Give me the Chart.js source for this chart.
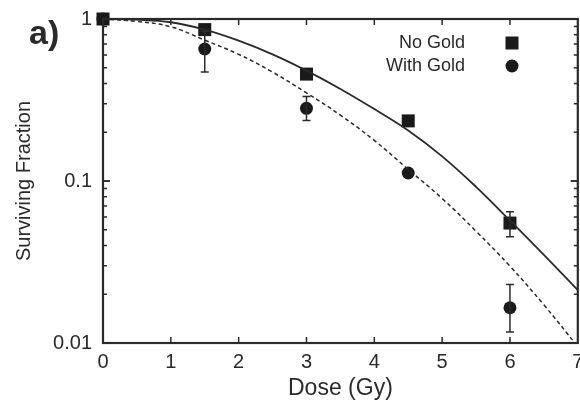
<!DOCTYPE html>
<html>
<head>
<meta charset="utf-8">
<script src="https://cdn.jsdelivr.net/npm/chart.js@4.4.1/dist/chart.umd.min.js"></script>
<style>
  html, body { margin:0; padding:0; background:#fff; overflow:hidden; }
  #wrap { width:587px; height:402px; position:relative; }
</style>
</head>
<body>
<div id="wrap"><canvas id="c"></canvas></div>
<script>
// measured points
const doses      = [0, 1.5, 3, 4.5, 6];
const noGold     = [1, 0.86, 0.457, 0.235, 0.055];
const withGold   = [1, 0.653, 0.281, 0.112, 0.0165];
// error bars (null = none visible)
const noGoldLow  = [null, null, null, null, 0.0453];
const noGoldHigh = [null, null, null, null, 0.0647];
const withGoldLow  = [null, 0.47, 0.236, null, 0.0117];
const withGoldHigh = [null, 0.84, 0.332, null, 0.023];

// fitted curves
const fitDoses   = [0, 0.5, 1, 1.5, 2, 2.5, 3, 3.5, 4, 4.5, 5, 5.5, 6, 6.5, 7];
const fitNoGold  = [1, 0.99, 0.955, 0.86, 0.735, 0.605, 0.48, 0.37, 0.278, 0.205, 0.142, 0.092, 0.057, 0.035, 0.0212];
const fitWithGold= [1, 0.965, 0.895, 0.74, 0.605, 0.47, 0.35, 0.255, 0.178, 0.118, 0.078, 0.049, 0.0298, 0.0172, 0.0095];

const yTickVals  = [0.01, 0.1, 1];
const xTickVals  = [0, 1, 2, 3, 4, 5, 6, 7];
const legendNames = ['No Gold', 'With Gold'];

const INK = '#2a2a2a';
const FONT = '"Liberation Sans", Arial, sans-serif';

function pts(xs, ys){ return xs.map((x,i) => ({x, y: ys[i]})); }

// frame + inward ticks
const framePlugin = {
  id:'frame',
  afterDatasetsDraw(chart){
    const {ctx, chartArea:a, scales:{x, y}} = chart;
    ctx.save();
    ctx.strokeStyle = INK;
    ctx.lineWidth = 1.5;
    // x ticks top & bottom
    xTickVals.forEach(v => {
      if (v === 0 || v === 7) return;
      const px = x.getPixelForValue(v);
      ctx.beginPath();
      ctx.moveTo(px, a.bottom); ctx.lineTo(px, a.bottom - 6);
      ctx.moveTo(px, a.top); ctx.lineTo(px, a.top + 6);
      ctx.stroke();
    });
    // y ticks, major + minor, left & right
    for (let dec = 0.01; dec < 1; dec *= 10) {
      for (let m = 1; m <= 10; m++) {
        const v = dec * m;
        const py = y.getPixelForValue(v);
        const len = (m === 1 || m === 10) ? 7 : 4;
        ctx.beginPath();
        ctx.moveTo(a.left, py); ctx.lineTo(a.left + len, py);
        ctx.moveTo(a.right, py); ctx.lineTo(a.right - len, py);
        ctx.stroke();
      }
    }
    ctx.lineWidth = 2.2;
    ctx.strokeRect(a.left, a.top, a.right - a.left, a.bottom - a.top);
    ctx.restore();
  }
};

// error bars
const errPlugin = {
  id:'errbars',
  afterDatasetsDraw(chart){
    const {ctx, scales:{x, y}} = chart;
    ctx.save();
    ctx.strokeStyle = INK;
    ctx.lineWidth = 1.5;
    const draw = (lo, hi) => doses.forEach((d,i) => {
      if (lo[i] == null) return;
      const px = x.getPixelForValue(d);
      const p1 = y.getPixelForValue(lo[i]);
      const p2 = y.getPixelForValue(hi[i]);
      ctx.beginPath();
      ctx.moveTo(px, p1); ctx.lineTo(px, p2);
      ctx.moveTo(px - 4, p1); ctx.lineTo(px + 4, p1);
      ctx.moveTo(px - 4, p2); ctx.lineTo(px + 4, p2);
      ctx.stroke();
    });
    draw(noGoldLow, noGoldHigh);
    draw(withGoldLow, withGoldHigh);
    ctx.restore();
  }
};

// panel label, legend
const labelPlugin = {
  id:'labels',
  afterDraw(chart){
    const {ctx} = chart;
    ctx.save();
    ctx.fillStyle = INK;
    ctx.font = 'bold 34px ' + FONT;
    ctx.textBaseline = 'alphabetic';
    ctx.textAlign = 'left';
    ctx.fillText('a)', 29, 44);

    ctx.font = '18px ' + FONT;
    ctx.textBaseline = 'middle';
    ctx.textAlign = 'right';
    ctx.fillText(legendNames[0], 465, 43);
    ctx.fillText(legendNames[1], 465, 66);
    ctx.fillStyle = '#1a1a1a';
    ctx.fillRect(512 - 6.5, 43 - 6.5, 13, 13);
    ctx.beginPath();
    ctx.arc(512, 66, 6.5, 0, Math.PI * 2);
    ctx.fill();
    ctx.restore();
  }
};

new Chart(document.getElementById('c'), {
  type:'line',
  data:{
    datasets:[
      { label:'fit No Gold', data: pts(fitDoses, fitNoGold), borderColor:INK, borderWidth:1.8,
        pointRadius:0, tension:0.4, fill:false },
      { label:'fit With Gold', data: pts(fitDoses, fitWithGold), borderColor:INK, borderWidth:1.5,
        borderDash:[4,3], pointRadius:0, tension:0.4, fill:false },
      { label:'No Gold', data: pts(doses, noGold), showLine:false, pointStyle:'rect',
        pointRadius:9.2, backgroundColor:'#1a1a1a', borderColor:'#1a1a1a', borderWidth:0, clip:false },
      { label:'With Gold', data: pts(doses, withGold), showLine:false, pointStyle:'circle',
        pointRadius:6.5, backgroundColor:'#1a1a1a', borderColor:'#1a1a1a', borderWidth:0, clip:false }
    ]
  },
  options:{
    responsive:true,
    maintainAspectRatio:false,
    animation:false,
    events:[],
    layout:{ padding:{ top:19, right:0, left:0, bottom:0 } },
    plugins:{ legend:{ display:false }, tooltip:{ enabled:false } },
    scales:{
      x:{
        type:'linear', min:0, max:7,
        afterBuildTicks(s){ s.ticks = xTickVals.map(v => ({value:v})); },
        afterFit(s){ s.height = 59; s.paddingLeft = 0; s.paddingRight = 0; },
        grid:{ display:false, drawTicks:false }, border:{ display:false },
        ticks:{ color:INK, font:{ size:20, family:FONT }, padding:7, maxRotation:0, autoSkip:false },
        title:{ display:true, text:'Dose (Gy)', color:INK, font:{ size:23, family:FONT }, padding:{ top:0, bottom:0 } }
      },
      y:{
        type:'logarithmic', min:0.01, max:1,
        afterBuildTicks(s){ s.ticks = yTickVals.map(v => ({value:v})); },
        afterFit(s){ s.width = 103; s.paddingTop = 0; s.paddingBottom = 0; },
        grid:{ display:false, drawTicks:false }, border:{ display:false },
        ticks:{ color:INK, font:{ size:20, family:FONT }, padding:11,
          callback:(v) => String(v) },
        title:{ display:true, text:'Surviving Fraction', color:INK, font:{ size:20, family:FONT }, padding:{ top:12, bottom:0 } }
      }
    }
  },
  plugins:[framePlugin, errPlugin, labelPlugin]
});
</script>
</body>
</html>
